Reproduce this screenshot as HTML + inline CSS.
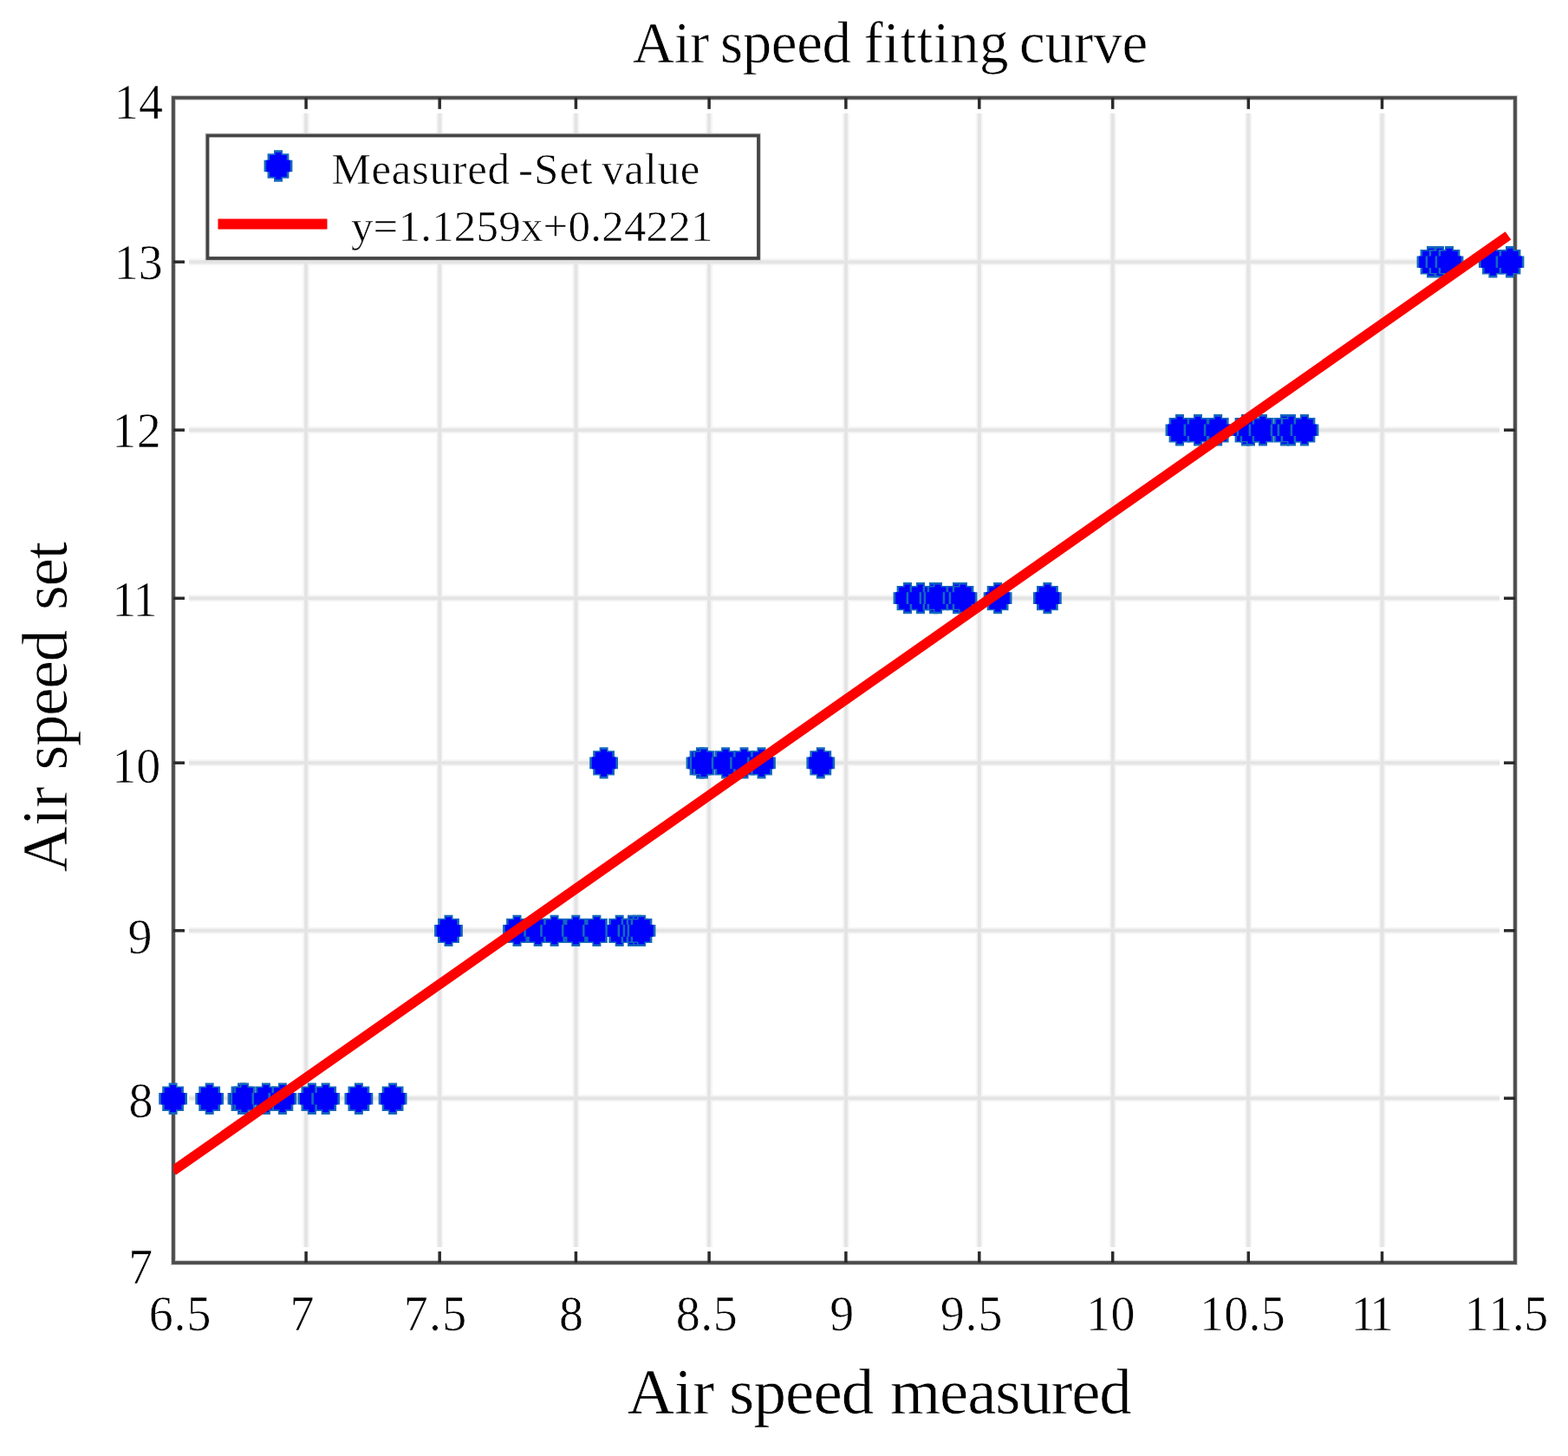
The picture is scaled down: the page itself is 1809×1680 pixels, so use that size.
<!DOCTYPE html><html><head><meta charset="utf-8"><title>Air speed fitting curve</title><style>html,body{margin:0;padding:0;background:#fff;}svg{display:block;filter:blur(0.55px);}text{font-family:"Liberation Serif","Times New Roman",serif;fill:#000;stroke:#fff;stroke-width:0.6px;font-variant-ligatures:none;font-kerning:none;}</style></head><body>
<svg width="1809" height="1680" viewBox="0 0 1809 1680">
<rect x="0" y="0" width="1809" height="1680" fill="#fff"/>
<g stroke="#f5f5f5" stroke-width="8"><line x1="353.1" y1="130.8" x2="353.1" y2="1439.0"/><line x1="507.2" y1="130.8" x2="507.2" y2="1439.0"/><line x1="664.4" y1="130.8" x2="664.4" y2="1439.0"/><line x1="818.1" y1="130.8" x2="818.1" y2="1439.0"/><line x1="975.9" y1="130.8" x2="975.9" y2="1439.0"/><line x1="1129.8" y1="130.8" x2="1129.8" y2="1439.0"/><line x1="1283.7" y1="130.8" x2="1283.7" y2="1439.0"/><line x1="1440.3" y1="130.8" x2="1440.3" y2="1439.0"/><line x1="1594.5" y1="130.8" x2="1594.5" y2="1439.0"/><line x1="218.0" y1="1267.2" x2="1730.0" y2="1267.2"/><line x1="218.0" y1="1073.8" x2="1730.0" y2="1073.8"/><line x1="218.0" y1="880.2" x2="1730.0" y2="880.2"/><line x1="218.0" y1="690.3" x2="1730.0" y2="690.3"/><line x1="218.0" y1="496.2" x2="1730.0" y2="496.2"/><line x1="218.0" y1="302.2" x2="1730.0" y2="302.2"/></g>
<g stroke="#e4e4e4" stroke-width="4"><line x1="353.1" y1="130.8" x2="353.1" y2="1439.0"/><line x1="507.2" y1="130.8" x2="507.2" y2="1439.0"/><line x1="664.4" y1="130.8" x2="664.4" y2="1439.0"/><line x1="818.1" y1="130.8" x2="818.1" y2="1439.0"/><line x1="975.9" y1="130.8" x2="975.9" y2="1439.0"/><line x1="1129.8" y1="130.8" x2="1129.8" y2="1439.0"/><line x1="1283.7" y1="130.8" x2="1283.7" y2="1439.0"/><line x1="1440.3" y1="130.8" x2="1440.3" y2="1439.0"/><line x1="1594.5" y1="130.8" x2="1594.5" y2="1439.0"/><line x1="218.0" y1="1267.2" x2="1730.0" y2="1267.2"/><line x1="218.0" y1="1073.8" x2="1730.0" y2="1073.8"/><line x1="218.0" y1="880.2" x2="1730.0" y2="880.2"/><line x1="218.0" y1="690.3" x2="1730.0" y2="690.3"/><line x1="218.0" y1="496.2" x2="1730.0" y2="496.2"/><line x1="218.0" y1="302.2" x2="1730.0" y2="302.2"/></g>
<rect x="200.0" y="112.8" width="1548.0" height="1344.2" fill="none" stroke="#d0d0d0" stroke-width="6"/>
<rect x="200.0" y="112.8" width="1548.0" height="1344.2" fill="none" stroke="#4c4c4c" stroke-width="3.8"/>
<g stroke="#2a2a2a" stroke-width="3.5"><line x1="353.1" y1="1457.0" x2="353.1" y2="1444.0"/><line x1="353.1" y1="112.8" x2="353.1" y2="125.8"/><line x1="507.2" y1="1457.0" x2="507.2" y2="1444.0"/><line x1="507.2" y1="112.8" x2="507.2" y2="125.8"/><line x1="664.4" y1="1457.0" x2="664.4" y2="1444.0"/><line x1="664.4" y1="112.8" x2="664.4" y2="125.8"/><line x1="818.1" y1="1457.0" x2="818.1" y2="1444.0"/><line x1="818.1" y1="112.8" x2="818.1" y2="125.8"/><line x1="975.9" y1="1457.0" x2="975.9" y2="1444.0"/><line x1="975.9" y1="112.8" x2="975.9" y2="125.8"/><line x1="1129.8" y1="1457.0" x2="1129.8" y2="1444.0"/><line x1="1129.8" y1="112.8" x2="1129.8" y2="125.8"/><line x1="1283.7" y1="1457.0" x2="1283.7" y2="1444.0"/><line x1="1283.7" y1="112.8" x2="1283.7" y2="125.8"/><line x1="1440.3" y1="1457.0" x2="1440.3" y2="1444.0"/><line x1="1440.3" y1="112.8" x2="1440.3" y2="125.8"/><line x1="1594.5" y1="1457.0" x2="1594.5" y2="1444.0"/><line x1="1594.5" y1="112.8" x2="1594.5" y2="125.8"/><line x1="200.0" y1="1267.2" x2="213.0" y2="1267.2"/><line x1="1748.0" y1="1267.2" x2="1735.0" y2="1267.2"/><line x1="200.0" y1="1073.8" x2="213.0" y2="1073.8"/><line x1="1748.0" y1="1073.8" x2="1735.0" y2="1073.8"/><line x1="200.0" y1="880.2" x2="213.0" y2="880.2"/><line x1="1748.0" y1="880.2" x2="1735.0" y2="880.2"/><line x1="200.0" y1="690.3" x2="213.0" y2="690.3"/><line x1="1748.0" y1="690.3" x2="1735.0" y2="690.3"/><line x1="200.0" y1="496.2" x2="213.0" y2="496.2"/><line x1="1748.0" y1="496.2" x2="1735.0" y2="496.2"/><line x1="200.0" y1="302.2" x2="213.0" y2="302.2"/><line x1="1748.0" y1="302.2" x2="1735.0" y2="302.2"/></g>
<g><polygon points="194.6,1249.5 204.6,1249.5 204.6,1253.5 212.0,1253.5 212.0,1260.9 216.0,1260.9 216.0,1274.5 212.0,1274.5 212.0,1281.9 204.6,1281.9 204.6,1285.9 194.6,1285.9 194.6,1281.9 187.2,1281.9 187.2,1274.5 183.2,1274.5 183.2,1260.9 187.2,1260.9 187.2,1253.5 194.6,1253.5" fill="#1468bc"/><polygon points="196.2,1252.1 203.0,1252.1 203.0,1255.1 209.4,1255.1 209.4,1260.9 213.4,1260.9 213.4,1274.5 209.4,1274.5 209.4,1280.3 203.0,1280.3 203.0,1283.3 196.2,1283.3 196.2,1280.3 189.8,1280.3 189.8,1274.5 185.8,1274.5 185.8,1260.9 189.8,1260.9 189.8,1255.1 196.2,1255.1" fill="#0000fc"/><polygon points="236.7,1249.5 246.7,1249.5 246.7,1253.5 254.1,1253.5 254.1,1260.9 258.1,1260.9 258.1,1274.5 254.1,1274.5 254.1,1281.9 246.7,1281.9 246.7,1285.9 236.7,1285.9 236.7,1281.9 229.3,1281.9 229.3,1274.5 225.3,1274.5 225.3,1260.9 229.3,1260.9 229.3,1253.5 236.7,1253.5" fill="#1468bc"/><polygon points="238.3,1252.1 245.1,1252.1 245.1,1255.1 251.5,1255.1 251.5,1260.9 255.5,1260.9 255.5,1274.5 251.5,1274.5 251.5,1280.3 245.1,1280.3 245.1,1283.3 238.3,1283.3 238.3,1280.3 231.9,1280.3 231.9,1274.5 227.9,1274.5 227.9,1260.9 231.9,1260.9 231.9,1255.1 238.3,1255.1" fill="#0000fc"/><polygon points="274.0,1249.5 284.0,1249.5 284.0,1253.5 291.4,1253.5 291.4,1260.9 295.4,1260.9 295.4,1274.5 291.4,1274.5 291.4,1281.9 284.0,1281.9 284.0,1285.9 274.0,1285.9 274.0,1281.9 266.6,1281.9 266.6,1274.5 262.6,1274.5 262.6,1260.9 266.6,1260.9 266.6,1253.5 274.0,1253.5" fill="#1468bc"/><polygon points="275.6,1252.1 282.4,1252.1 282.4,1255.1 288.8,1255.1 288.8,1260.9 292.8,1260.9 292.8,1274.5 288.8,1274.5 288.8,1280.3 282.4,1280.3 282.4,1283.3 275.6,1283.3 275.6,1280.3 269.2,1280.3 269.2,1274.5 265.2,1274.5 265.2,1260.9 269.2,1260.9 269.2,1255.1 275.6,1255.1" fill="#0000fc"/><polygon points="277.0,1249.5 287.0,1249.5 287.0,1253.5 294.4,1253.5 294.4,1260.9 298.4,1260.9 298.4,1274.5 294.4,1274.5 294.4,1281.9 287.0,1281.9 287.0,1285.9 277.0,1285.9 277.0,1281.9 269.6,1281.9 269.6,1274.5 265.6,1274.5 265.6,1260.9 269.6,1260.9 269.6,1253.5 277.0,1253.5" fill="#1468bc"/><polygon points="278.6,1252.1 285.4,1252.1 285.4,1255.1 291.8,1255.1 291.8,1260.9 295.8,1260.9 295.8,1274.5 291.8,1274.5 291.8,1280.3 285.4,1280.3 285.4,1283.3 278.6,1283.3 278.6,1280.3 272.2,1280.3 272.2,1274.5 268.2,1274.5 268.2,1260.9 272.2,1260.9 272.2,1255.1 278.6,1255.1" fill="#0000fc"/><polygon points="301.9,1249.5 311.9,1249.5 311.9,1253.5 319.3,1253.5 319.3,1260.9 323.3,1260.9 323.3,1274.5 319.3,1274.5 319.3,1281.9 311.9,1281.9 311.9,1285.9 301.9,1285.9 301.9,1281.9 294.5,1281.9 294.5,1274.5 290.5,1274.5 290.5,1260.9 294.5,1260.9 294.5,1253.5 301.9,1253.5" fill="#1468bc"/><polygon points="303.5,1252.1 310.3,1252.1 310.3,1255.1 316.7,1255.1 316.7,1260.9 320.7,1260.9 320.7,1274.5 316.7,1274.5 316.7,1280.3 310.3,1280.3 310.3,1283.3 303.5,1283.3 303.5,1280.3 297.1,1280.3 297.1,1274.5 293.1,1274.5 293.1,1260.9 297.1,1260.9 297.1,1255.1 303.5,1255.1" fill="#0000fc"/><polygon points="320.9,1249.5 330.9,1249.5 330.9,1253.5 338.3,1253.5 338.3,1260.9 342.3,1260.9 342.3,1274.5 338.3,1274.5 338.3,1281.9 330.9,1281.9 330.9,1285.9 320.9,1285.9 320.9,1281.9 313.5,1281.9 313.5,1274.5 309.5,1274.5 309.5,1260.9 313.5,1260.9 313.5,1253.5 320.9,1253.5" fill="#1468bc"/><polygon points="322.5,1252.1 329.3,1252.1 329.3,1255.1 335.7,1255.1 335.7,1260.9 339.7,1260.9 339.7,1274.5 335.7,1274.5 335.7,1280.3 329.3,1280.3 329.3,1283.3 322.5,1283.3 322.5,1280.3 316.1,1280.3 316.1,1274.5 312.1,1274.5 312.1,1260.9 316.1,1260.9 316.1,1255.1 322.5,1255.1" fill="#0000fc"/><polygon points="354.9,1249.5 364.9,1249.5 364.9,1253.5 372.3,1253.5 372.3,1260.9 376.3,1260.9 376.3,1274.5 372.3,1274.5 372.3,1281.9 364.9,1281.9 364.9,1285.9 354.9,1285.9 354.9,1281.9 347.5,1281.9 347.5,1274.5 343.5,1274.5 343.5,1260.9 347.5,1260.9 347.5,1253.5 354.9,1253.5" fill="#1468bc"/><polygon points="356.5,1252.1 363.3,1252.1 363.3,1255.1 369.7,1255.1 369.7,1260.9 373.7,1260.9 373.7,1274.5 369.7,1274.5 369.7,1280.3 363.3,1280.3 363.3,1283.3 356.5,1283.3 356.5,1280.3 350.1,1280.3 350.1,1274.5 346.1,1274.5 346.1,1260.9 350.1,1260.9 350.1,1255.1 356.5,1255.1" fill="#0000fc"/><polygon points="370.7,1249.5 380.7,1249.5 380.7,1253.5 388.1,1253.5 388.1,1260.9 392.1,1260.9 392.1,1274.5 388.1,1274.5 388.1,1281.9 380.7,1281.9 380.7,1285.9 370.7,1285.9 370.7,1281.9 363.3,1281.9 363.3,1274.5 359.3,1274.5 359.3,1260.9 363.3,1260.9 363.3,1253.5 370.7,1253.5" fill="#1468bc"/><polygon points="372.3,1252.1 379.1,1252.1 379.1,1255.1 385.5,1255.1 385.5,1260.9 389.5,1260.9 389.5,1274.5 385.5,1274.5 385.5,1280.3 379.1,1280.3 379.1,1283.3 372.3,1283.3 372.3,1280.3 365.9,1280.3 365.9,1274.5 361.9,1274.5 361.9,1260.9 365.9,1260.9 365.9,1255.1 372.3,1255.1" fill="#0000fc"/><polygon points="408.9,1249.5 418.9,1249.5 418.9,1253.5 426.3,1253.5 426.3,1260.9 430.3,1260.9 430.3,1274.5 426.3,1274.5 426.3,1281.9 418.9,1281.9 418.9,1285.9 408.9,1285.9 408.9,1281.9 401.5,1281.9 401.5,1274.5 397.5,1274.5 397.5,1260.9 401.5,1260.9 401.5,1253.5 408.9,1253.5" fill="#1468bc"/><polygon points="410.5,1252.1 417.3,1252.1 417.3,1255.1 423.7,1255.1 423.7,1260.9 427.7,1260.9 427.7,1274.5 423.7,1274.5 423.7,1280.3 417.3,1280.3 417.3,1283.3 410.5,1283.3 410.5,1280.3 404.1,1280.3 404.1,1274.5 400.1,1274.5 400.1,1260.9 404.1,1260.9 404.1,1255.1 410.5,1255.1" fill="#0000fc"/><polygon points="448.1,1249.5 458.1,1249.5 458.1,1253.5 465.5,1253.5 465.5,1260.9 469.5,1260.9 469.5,1274.5 465.5,1274.5 465.5,1281.9 458.1,1281.9 458.1,1285.9 448.1,1285.9 448.1,1281.9 440.7,1281.9 440.7,1274.5 436.7,1274.5 436.7,1260.9 440.7,1260.9 440.7,1253.5 448.1,1253.5" fill="#1468bc"/><polygon points="449.7,1252.1 456.5,1252.1 456.5,1255.1 462.9,1255.1 462.9,1260.9 466.9,1260.9 466.9,1274.5 462.9,1274.5 462.9,1280.3 456.5,1280.3 456.5,1283.3 449.7,1283.3 449.7,1280.3 443.3,1280.3 443.3,1274.5 439.3,1274.5 439.3,1260.9 443.3,1260.9 443.3,1255.1 449.7,1255.1" fill="#0000fc"/><polygon points="512.5,1055.7 522.5,1055.7 522.5,1059.7 529.9,1059.7 529.9,1067.1 533.9,1067.1 533.9,1080.7 529.9,1080.7 529.9,1088.1 522.5,1088.1 522.5,1092.1 512.5,1092.1 512.5,1088.1 505.1,1088.1 505.1,1080.7 501.1,1080.7 501.1,1067.1 505.1,1067.1 505.1,1059.7 512.5,1059.7" fill="#1468bc"/><polygon points="514.1,1058.3 520.9,1058.3 520.9,1061.3 527.3,1061.3 527.3,1067.1 531.3,1067.1 531.3,1080.7 527.3,1080.7 527.3,1086.5 520.9,1086.5 520.9,1089.5 514.1,1089.5 514.1,1086.5 507.7,1086.5 507.7,1080.7 503.7,1080.7 503.7,1067.1 507.7,1067.1 507.7,1061.3 514.1,1061.3" fill="#0000fc"/><polygon points="591.5,1055.7 601.5,1055.7 601.5,1059.7 608.9,1059.7 608.9,1067.1 612.9,1067.1 612.9,1080.7 608.9,1080.7 608.9,1088.1 601.5,1088.1 601.5,1092.1 591.5,1092.1 591.5,1088.1 584.1,1088.1 584.1,1080.7 580.1,1080.7 580.1,1067.1 584.1,1067.1 584.1,1059.7 591.5,1059.7" fill="#1468bc"/><polygon points="593.1,1058.3 599.9,1058.3 599.9,1061.3 606.3,1061.3 606.3,1067.1 610.3,1067.1 610.3,1080.7 606.3,1080.7 606.3,1086.5 599.9,1086.5 599.9,1089.5 593.1,1089.5 593.1,1086.5 586.7,1086.5 586.7,1080.7 582.7,1080.7 582.7,1067.1 586.7,1067.1 586.7,1061.3 593.1,1061.3" fill="#0000fc"/><polygon points="615.7,1055.7 625.7,1055.7 625.7,1059.7 633.1,1059.7 633.1,1067.1 637.1,1067.1 637.1,1080.7 633.1,1080.7 633.1,1088.1 625.7,1088.1 625.7,1092.1 615.7,1092.1 615.7,1088.1 608.3,1088.1 608.3,1080.7 604.3,1080.7 604.3,1067.1 608.3,1067.1 608.3,1059.7 615.7,1059.7" fill="#1468bc"/><polygon points="617.3,1058.3 624.1,1058.3 624.1,1061.3 630.5,1061.3 630.5,1067.1 634.5,1067.1 634.5,1080.7 630.5,1080.7 630.5,1086.5 624.1,1086.5 624.1,1089.5 617.3,1089.5 617.3,1086.5 610.9,1086.5 610.9,1080.7 606.9,1080.7 606.9,1067.1 610.9,1067.1 610.9,1061.3 617.3,1061.3" fill="#0000fc"/><polygon points="634.6,1055.7 644.6,1055.7 644.6,1059.7 652.0,1059.7 652.0,1067.1 656.0,1067.1 656.0,1080.7 652.0,1080.7 652.0,1088.1 644.6,1088.1 644.6,1092.1 634.6,1092.1 634.6,1088.1 627.2,1088.1 627.2,1080.7 623.2,1080.7 623.2,1067.1 627.2,1067.1 627.2,1059.7 634.6,1059.7" fill="#1468bc"/><polygon points="636.2,1058.3 643.0,1058.3 643.0,1061.3 649.4,1061.3 649.4,1067.1 653.4,1067.1 653.4,1080.7 649.4,1080.7 649.4,1086.5 643.0,1086.5 643.0,1089.5 636.2,1089.5 636.2,1086.5 629.8,1086.5 629.8,1080.7 625.8,1080.7 625.8,1067.1 629.8,1067.1 629.8,1061.3 636.2,1061.3" fill="#0000fc"/><polygon points="659.3,1055.7 669.3,1055.7 669.3,1059.7 676.7,1059.7 676.7,1067.1 680.7,1067.1 680.7,1080.7 676.7,1080.7 676.7,1088.1 669.3,1088.1 669.3,1092.1 659.3,1092.1 659.3,1088.1 651.9,1088.1 651.9,1080.7 647.9,1080.7 647.9,1067.1 651.9,1067.1 651.9,1059.7 659.3,1059.7" fill="#1468bc"/><polygon points="660.9,1058.3 667.7,1058.3 667.7,1061.3 674.1,1061.3 674.1,1067.1 678.1,1067.1 678.1,1080.7 674.1,1080.7 674.1,1086.5 667.7,1086.5 667.7,1089.5 660.9,1089.5 660.9,1086.5 654.5,1086.5 654.5,1080.7 650.5,1080.7 650.5,1067.1 654.5,1067.1 654.5,1061.3 660.9,1061.3" fill="#0000fc"/><polygon points="683.4,1055.7 693.4,1055.7 693.4,1059.7 700.8,1059.7 700.8,1067.1 704.8,1067.1 704.8,1080.7 700.8,1080.7 700.8,1088.1 693.4,1088.1 693.4,1092.1 683.4,1092.1 683.4,1088.1 676.0,1088.1 676.0,1080.7 672.0,1080.7 672.0,1067.1 676.0,1067.1 676.0,1059.7 683.4,1059.7" fill="#1468bc"/><polygon points="685.0,1058.3 691.8,1058.3 691.8,1061.3 698.2,1061.3 698.2,1067.1 702.2,1067.1 702.2,1080.7 698.2,1080.7 698.2,1086.5 691.8,1086.5 691.8,1089.5 685.0,1089.5 685.0,1086.5 678.6,1086.5 678.6,1080.7 674.6,1080.7 674.6,1067.1 678.6,1067.1 678.6,1061.3 685.0,1061.3" fill="#0000fc"/><polygon points="709.7,1055.7 719.7,1055.7 719.7,1059.7 727.1,1059.7 727.1,1067.1 731.1,1067.1 731.1,1080.7 727.1,1080.7 727.1,1088.1 719.7,1088.1 719.7,1092.1 709.7,1092.1 709.7,1088.1 702.3,1088.1 702.3,1080.7 698.3,1080.7 698.3,1067.1 702.3,1067.1 702.3,1059.7 709.7,1059.7" fill="#1468bc"/><polygon points="711.3,1058.3 718.1,1058.3 718.1,1061.3 724.5,1061.3 724.5,1067.1 728.5,1067.1 728.5,1080.7 724.5,1080.7 724.5,1086.5 718.1,1086.5 718.1,1089.5 711.3,1089.5 711.3,1086.5 704.9,1086.5 704.9,1080.7 700.9,1080.7 700.9,1067.1 704.9,1067.1 704.9,1061.3 711.3,1061.3" fill="#0000fc"/><polygon points="724.0,1055.7 734.0,1055.7 734.0,1059.7 741.4,1059.7 741.4,1067.1 745.4,1067.1 745.4,1080.7 741.4,1080.7 741.4,1088.1 734.0,1088.1 734.0,1092.1 724.0,1092.1 724.0,1088.1 716.6,1088.1 716.6,1080.7 712.6,1080.7 712.6,1067.1 716.6,1067.1 716.6,1059.7 724.0,1059.7" fill="#1468bc"/><polygon points="725.6,1058.3 732.4,1058.3 732.4,1061.3 738.8,1061.3 738.8,1067.1 742.8,1067.1 742.8,1080.7 738.8,1080.7 738.8,1086.5 732.4,1086.5 732.4,1089.5 725.6,1089.5 725.6,1086.5 719.2,1086.5 719.2,1080.7 715.2,1080.7 715.2,1067.1 719.2,1067.1 719.2,1061.3 725.6,1061.3" fill="#0000fc"/><polygon points="730.0,1055.7 740.0,1055.7 740.0,1059.7 747.4,1059.7 747.4,1067.1 751.4,1067.1 751.4,1080.7 747.4,1080.7 747.4,1088.1 740.0,1088.1 740.0,1092.1 730.0,1092.1 730.0,1088.1 722.6,1088.1 722.6,1080.7 718.6,1080.7 718.6,1067.1 722.6,1067.1 722.6,1059.7 730.0,1059.7" fill="#1468bc"/><polygon points="731.6,1058.3 738.4,1058.3 738.4,1061.3 744.8,1061.3 744.8,1067.1 748.8,1067.1 748.8,1080.7 744.8,1080.7 744.8,1086.5 738.4,1086.5 738.4,1089.5 731.6,1089.5 731.6,1086.5 725.2,1086.5 725.2,1080.7 721.2,1080.7 721.2,1067.1 725.2,1067.1 725.2,1061.3 731.6,1061.3" fill="#0000fc"/><polygon points="735.0,1055.7 745.0,1055.7 745.0,1059.7 752.4,1059.7 752.4,1067.1 756.4,1067.1 756.4,1080.7 752.4,1080.7 752.4,1088.1 745.0,1088.1 745.0,1092.1 735.0,1092.1 735.0,1088.1 727.6,1088.1 727.6,1080.7 723.6,1080.7 723.6,1067.1 727.6,1067.1 727.6,1059.7 735.0,1059.7" fill="#1468bc"/><polygon points="736.6,1058.3 743.4,1058.3 743.4,1061.3 749.8,1061.3 749.8,1067.1 753.8,1067.1 753.8,1080.7 749.8,1080.7 749.8,1086.5 743.4,1086.5 743.4,1089.5 736.6,1089.5 736.6,1086.5 730.2,1086.5 730.2,1080.7 726.2,1080.7 726.2,1067.1 730.2,1067.1 730.2,1061.3 736.6,1061.3" fill="#0000fc"/><polygon points="691.6,862.2 701.6,862.2 701.6,866.2 709.0,866.2 709.0,873.6 713.0,873.6 713.0,887.2 709.0,887.2 709.0,894.6 701.6,894.6 701.6,898.6 691.6,898.6 691.6,894.6 684.2,894.6 684.2,887.2 680.2,887.2 680.2,873.6 684.2,873.6 684.2,866.2 691.6,866.2" fill="#1468bc"/><polygon points="693.2,864.8 700.0,864.8 700.0,867.8 706.4,867.8 706.4,873.6 710.4,873.6 710.4,887.2 706.4,887.2 706.4,893.0 700.0,893.0 700.0,896.0 693.2,896.0 693.2,893.0 686.8,893.0 686.8,887.2 682.8,887.2 682.8,873.6 686.8,873.6 686.8,867.8 693.2,867.8" fill="#0000fc"/><polygon points="803.0,862.2 813.0,862.2 813.0,866.2 820.4,866.2 820.4,873.6 824.4,873.6 824.4,887.2 820.4,887.2 820.4,894.6 813.0,894.6 813.0,898.6 803.0,898.6 803.0,894.6 795.6,894.6 795.6,887.2 791.6,887.2 791.6,873.6 795.6,873.6 795.6,866.2 803.0,866.2" fill="#1468bc"/><polygon points="804.6,864.8 811.4,864.8 811.4,867.8 817.8,867.8 817.8,873.6 821.8,873.6 821.8,887.2 817.8,887.2 817.8,893.0 811.4,893.0 811.4,896.0 804.6,896.0 804.6,893.0 798.2,893.0 798.2,887.2 794.2,887.2 794.2,873.6 798.2,873.6 798.2,867.8 804.6,867.8" fill="#0000fc"/><polygon points="807.0,862.2 817.0,862.2 817.0,866.2 824.4,866.2 824.4,873.6 828.4,873.6 828.4,887.2 824.4,887.2 824.4,894.6 817.0,894.6 817.0,898.6 807.0,898.6 807.0,894.6 799.6,894.6 799.6,887.2 795.6,887.2 795.6,873.6 799.6,873.6 799.6,866.2 807.0,866.2" fill="#1468bc"/><polygon points="808.6,864.8 815.4,864.8 815.4,867.8 821.8,867.8 821.8,873.6 825.8,873.6 825.8,887.2 821.8,887.2 821.8,893.0 815.4,893.0 815.4,896.0 808.6,896.0 808.6,893.0 802.2,893.0 802.2,887.2 798.2,887.2 798.2,873.6 802.2,873.6 802.2,867.8 808.6,867.8" fill="#0000fc"/><polygon points="832.1,862.2 842.1,862.2 842.1,866.2 849.5,866.2 849.5,873.6 853.5,873.6 853.5,887.2 849.5,887.2 849.5,894.6 842.1,894.6 842.1,898.6 832.1,898.6 832.1,894.6 824.7,894.6 824.7,887.2 820.7,887.2 820.7,873.6 824.7,873.6 824.7,866.2 832.1,866.2" fill="#1468bc"/><polygon points="833.7,864.8 840.5,864.8 840.5,867.8 846.9,867.8 846.9,873.6 850.9,873.6 850.9,887.2 846.9,887.2 846.9,893.0 840.5,893.0 840.5,896.0 833.7,896.0 833.7,893.0 827.3,893.0 827.3,887.2 823.3,887.2 823.3,873.6 827.3,873.6 827.3,867.8 833.7,867.8" fill="#0000fc"/><polygon points="853.5,862.2 863.5,862.2 863.5,866.2 870.9,866.2 870.9,873.6 874.9,873.6 874.9,887.2 870.9,887.2 870.9,894.6 863.5,894.6 863.5,898.6 853.5,898.6 853.5,894.6 846.1,894.6 846.1,887.2 842.1,887.2 842.1,873.6 846.1,873.6 846.1,866.2 853.5,866.2" fill="#1468bc"/><polygon points="855.1,864.8 861.9,864.8 861.9,867.8 868.3,867.8 868.3,873.6 872.3,873.6 872.3,887.2 868.3,887.2 868.3,893.0 861.9,893.0 861.9,896.0 855.1,896.0 855.1,893.0 848.7,893.0 848.7,887.2 844.7,887.2 844.7,873.6 848.7,873.6 848.7,867.8 855.1,867.8" fill="#0000fc"/><polygon points="873.5,862.2 883.5,862.2 883.5,866.2 890.9,866.2 890.9,873.6 894.9,873.6 894.9,887.2 890.9,887.2 890.9,894.6 883.5,894.6 883.5,898.6 873.5,898.6 873.5,894.6 866.1,894.6 866.1,887.2 862.1,887.2 862.1,873.6 866.1,873.6 866.1,866.2 873.5,866.2" fill="#1468bc"/><polygon points="875.1,864.8 881.9,864.8 881.9,867.8 888.3,867.8 888.3,873.6 892.3,873.6 892.3,887.2 888.3,887.2 888.3,893.0 881.9,893.0 881.9,896.0 875.1,896.0 875.1,893.0 868.7,893.0 868.7,887.2 864.7,887.2 864.7,873.6 868.7,873.6 868.7,867.8 875.1,867.8" fill="#0000fc"/><polygon points="941.8,862.2 951.8,862.2 951.8,866.2 959.2,866.2 959.2,873.6 963.2,873.6 963.2,887.2 959.2,887.2 959.2,894.6 951.8,894.6 951.8,898.6 941.8,898.6 941.8,894.6 934.4,894.6 934.4,887.2 930.4,887.2 930.4,873.6 934.4,873.6 934.4,866.2 941.8,866.2" fill="#1468bc"/><polygon points="943.4,864.8 950.2,864.8 950.2,867.8 956.6,867.8 956.6,873.6 960.6,873.6 960.6,887.2 956.6,887.2 956.6,893.0 950.2,893.0 950.2,896.0 943.4,896.0 943.4,893.0 937.0,893.0 937.0,887.2 933.0,887.2 933.0,873.6 937.0,873.6 937.0,867.8 943.4,867.8" fill="#0000fc"/><polygon points="1042.0,671.9 1052.0,671.9 1052.0,675.9 1059.4,675.9 1059.4,683.3 1063.4,683.3 1063.4,696.9 1059.4,696.9 1059.4,704.3 1052.0,704.3 1052.0,708.3 1042.0,708.3 1042.0,704.3 1034.6,704.3 1034.6,696.9 1030.6,696.9 1030.6,683.3 1034.6,683.3 1034.6,675.9 1042.0,675.9" fill="#1468bc"/><polygon points="1043.6,674.5 1050.4,674.5 1050.4,677.5 1056.8,677.5 1056.8,683.3 1060.8,683.3 1060.8,696.9 1056.8,696.9 1056.8,702.7 1050.4,702.7 1050.4,705.7 1043.6,705.7 1043.6,702.7 1037.2,702.7 1037.2,696.9 1033.2,696.9 1033.2,683.3 1037.2,683.3 1037.2,677.5 1043.6,677.5" fill="#0000fc"/><polygon points="1057.0,671.9 1067.0,671.9 1067.0,675.9 1074.4,675.9 1074.4,683.3 1078.4,683.3 1078.4,696.9 1074.4,696.9 1074.4,704.3 1067.0,704.3 1067.0,708.3 1057.0,708.3 1057.0,704.3 1049.6,704.3 1049.6,696.9 1045.6,696.9 1045.6,683.3 1049.6,683.3 1049.6,675.9 1057.0,675.9" fill="#1468bc"/><polygon points="1058.6,674.5 1065.4,674.5 1065.4,677.5 1071.8,677.5 1071.8,683.3 1075.8,683.3 1075.8,696.9 1071.8,696.9 1071.8,702.7 1065.4,702.7 1065.4,705.7 1058.6,705.7 1058.6,702.7 1052.2,702.7 1052.2,696.9 1048.2,696.9 1048.2,683.3 1052.2,683.3 1052.2,677.5 1058.6,677.5" fill="#0000fc"/><polygon points="1072.0,671.9 1082.0,671.9 1082.0,675.9 1089.4,675.9 1089.4,683.3 1093.4,683.3 1093.4,696.9 1089.4,696.9 1089.4,704.3 1082.0,704.3 1082.0,708.3 1072.0,708.3 1072.0,704.3 1064.6,704.3 1064.6,696.9 1060.6,696.9 1060.6,683.3 1064.6,683.3 1064.6,675.9 1072.0,675.9" fill="#1468bc"/><polygon points="1073.6,674.5 1080.4,674.5 1080.4,677.5 1086.8,677.5 1086.8,683.3 1090.8,683.3 1090.8,696.9 1086.8,696.9 1086.8,702.7 1080.4,702.7 1080.4,705.7 1073.6,705.7 1073.6,702.7 1067.2,702.7 1067.2,696.9 1063.2,696.9 1063.2,683.3 1067.2,683.3 1067.2,677.5 1073.6,677.5" fill="#0000fc"/><polygon points="1077.0,671.9 1087.0,671.9 1087.0,675.9 1094.4,675.9 1094.4,683.3 1098.4,683.3 1098.4,696.9 1094.4,696.9 1094.4,704.3 1087.0,704.3 1087.0,708.3 1077.0,708.3 1077.0,704.3 1069.6,704.3 1069.6,696.9 1065.6,696.9 1065.6,683.3 1069.6,683.3 1069.6,675.9 1077.0,675.9" fill="#1468bc"/><polygon points="1078.6,674.5 1085.4,674.5 1085.4,677.5 1091.8,677.5 1091.8,683.3 1095.8,683.3 1095.8,696.9 1091.8,696.9 1091.8,702.7 1085.4,702.7 1085.4,705.7 1078.6,705.7 1078.6,702.7 1072.2,702.7 1072.2,696.9 1068.2,696.9 1068.2,683.3 1072.2,683.3 1072.2,677.5 1078.6,677.5" fill="#0000fc"/><polygon points="1099.0,671.9 1109.0,671.9 1109.0,675.9 1116.4,675.9 1116.4,683.3 1120.4,683.3 1120.4,696.9 1116.4,696.9 1116.4,704.3 1109.0,704.3 1109.0,708.3 1099.0,708.3 1099.0,704.3 1091.6,704.3 1091.6,696.9 1087.6,696.9 1087.6,683.3 1091.6,683.3 1091.6,675.9 1099.0,675.9" fill="#1468bc"/><polygon points="1100.6,674.5 1107.4,674.5 1107.4,677.5 1113.8,677.5 1113.8,683.3 1117.8,683.3 1117.8,696.9 1113.8,696.9 1113.8,702.7 1107.4,702.7 1107.4,705.7 1100.6,705.7 1100.6,702.7 1094.2,702.7 1094.2,696.9 1090.2,696.9 1090.2,683.3 1094.2,683.3 1094.2,677.5 1100.6,677.5" fill="#0000fc"/><polygon points="1106.0,671.9 1116.0,671.9 1116.0,675.9 1123.4,675.9 1123.4,683.3 1127.4,683.3 1127.4,696.9 1123.4,696.9 1123.4,704.3 1116.0,704.3 1116.0,708.3 1106.0,708.3 1106.0,704.3 1098.6,704.3 1098.6,696.9 1094.6,696.9 1094.6,683.3 1098.6,683.3 1098.6,675.9 1106.0,675.9" fill="#1468bc"/><polygon points="1107.6,674.5 1114.4,674.5 1114.4,677.5 1120.8,677.5 1120.8,683.3 1124.8,683.3 1124.8,696.9 1120.8,696.9 1120.8,702.7 1114.4,702.7 1114.4,705.7 1107.6,705.7 1107.6,702.7 1101.2,702.7 1101.2,696.9 1097.2,696.9 1097.2,683.3 1101.2,683.3 1101.2,677.5 1107.6,677.5" fill="#0000fc"/><polygon points="1146.1,671.9 1156.1,671.9 1156.1,675.9 1163.5,675.9 1163.5,683.3 1167.5,683.3 1167.5,696.9 1163.5,696.9 1163.5,704.3 1156.1,704.3 1156.1,708.3 1146.1,708.3 1146.1,704.3 1138.7,704.3 1138.7,696.9 1134.7,696.9 1134.7,683.3 1138.7,683.3 1138.7,675.9 1146.1,675.9" fill="#1468bc"/><polygon points="1147.7,674.5 1154.5,674.5 1154.5,677.5 1160.9,677.5 1160.9,683.3 1164.9,683.3 1164.9,696.9 1160.9,696.9 1160.9,702.7 1154.5,702.7 1154.5,705.7 1147.7,705.7 1147.7,702.7 1141.3,702.7 1141.3,696.9 1137.3,696.9 1137.3,683.3 1141.3,683.3 1141.3,677.5 1147.7,677.5" fill="#0000fc"/><polygon points="1203.4,671.9 1213.4,671.9 1213.4,675.9 1220.8,675.9 1220.8,683.3 1224.8,683.3 1224.8,696.9 1220.8,696.9 1220.8,704.3 1213.4,704.3 1213.4,708.3 1203.4,708.3 1203.4,704.3 1196.0,704.3 1196.0,696.9 1192.0,696.9 1192.0,683.3 1196.0,683.3 1196.0,675.9 1203.4,675.9" fill="#1468bc"/><polygon points="1205.0,674.5 1211.8,674.5 1211.8,677.5 1218.2,677.5 1218.2,683.3 1222.2,683.3 1222.2,696.9 1218.2,696.9 1218.2,702.7 1211.8,702.7 1211.8,705.7 1205.0,705.7 1205.0,702.7 1198.6,702.7 1198.6,696.9 1194.6,696.9 1194.6,683.3 1198.6,683.3 1198.6,677.5 1205.0,677.5" fill="#0000fc"/><polygon points="1356.0,478.1 1366.0,478.1 1366.0,482.1 1373.4,482.1 1373.4,489.5 1377.4,489.5 1377.4,503.1 1373.4,503.1 1373.4,510.5 1366.0,510.5 1366.0,514.5 1356.0,514.5 1356.0,510.5 1348.6,510.5 1348.6,503.1 1344.6,503.1 1344.6,489.5 1348.6,489.5 1348.6,482.1 1356.0,482.1" fill="#1468bc"/><polygon points="1357.6,480.7 1364.4,480.7 1364.4,483.7 1370.8,483.7 1370.8,489.5 1374.8,489.5 1374.8,503.1 1370.8,503.1 1370.8,508.9 1364.4,508.9 1364.4,511.9 1357.6,511.9 1357.6,508.9 1351.2,508.9 1351.2,503.1 1347.2,503.1 1347.2,489.5 1351.2,489.5 1351.2,483.7 1357.6,483.7" fill="#0000fc"/><polygon points="1377.0,478.1 1387.0,478.1 1387.0,482.1 1394.4,482.1 1394.4,489.5 1398.4,489.5 1398.4,503.1 1394.4,503.1 1394.4,510.5 1387.0,510.5 1387.0,514.5 1377.0,514.5 1377.0,510.5 1369.6,510.5 1369.6,503.1 1365.6,503.1 1365.6,489.5 1369.6,489.5 1369.6,482.1 1377.0,482.1" fill="#1468bc"/><polygon points="1378.6,480.7 1385.4,480.7 1385.4,483.7 1391.8,483.7 1391.8,489.5 1395.8,489.5 1395.8,503.1 1391.8,503.1 1391.8,508.9 1385.4,508.9 1385.4,511.9 1378.6,511.9 1378.6,508.9 1372.2,508.9 1372.2,503.1 1368.2,503.1 1368.2,489.5 1372.2,489.5 1372.2,483.7 1378.6,483.7" fill="#0000fc"/><polygon points="1400.2,478.1 1410.2,478.1 1410.2,482.1 1417.6,482.1 1417.6,489.5 1421.6,489.5 1421.6,503.1 1417.6,503.1 1417.6,510.5 1410.2,510.5 1410.2,514.5 1400.2,514.5 1400.2,510.5 1392.8,510.5 1392.8,503.1 1388.8,503.1 1388.8,489.5 1392.8,489.5 1392.8,482.1 1400.2,482.1" fill="#1468bc"/><polygon points="1401.8,480.7 1408.6,480.7 1408.6,483.7 1415.0,483.7 1415.0,489.5 1419.0,489.5 1419.0,503.1 1415.0,503.1 1415.0,508.9 1408.6,508.9 1408.6,511.9 1401.8,511.9 1401.8,508.9 1395.4,508.9 1395.4,503.1 1391.4,503.1 1391.4,489.5 1395.4,489.5 1395.4,483.7 1401.8,483.7" fill="#0000fc"/><polygon points="1432.0,478.1 1442.0,478.1 1442.0,482.1 1449.4,482.1 1449.4,489.5 1453.4,489.5 1453.4,503.1 1449.4,503.1 1449.4,510.5 1442.0,510.5 1442.0,514.5 1432.0,514.5 1432.0,510.5 1424.6,510.5 1424.6,503.1 1420.6,503.1 1420.6,489.5 1424.6,489.5 1424.6,482.1 1432.0,482.1" fill="#1468bc"/><polygon points="1433.6,480.7 1440.4,480.7 1440.4,483.7 1446.8,483.7 1446.8,489.5 1450.8,489.5 1450.8,503.1 1446.8,503.1 1446.8,508.9 1440.4,508.9 1440.4,511.9 1433.6,511.9 1433.6,508.9 1427.2,508.9 1427.2,503.1 1423.2,503.1 1423.2,489.5 1427.2,489.5 1427.2,483.7 1433.6,483.7" fill="#0000fc"/><polygon points="1438.0,478.1 1448.0,478.1 1448.0,482.1 1455.4,482.1 1455.4,489.5 1459.4,489.5 1459.4,503.1 1455.4,503.1 1455.4,510.5 1448.0,510.5 1448.0,514.5 1438.0,514.5 1438.0,510.5 1430.6,510.5 1430.6,503.1 1426.6,503.1 1426.6,489.5 1430.6,489.5 1430.6,482.1 1438.0,482.1" fill="#1468bc"/><polygon points="1439.6,480.7 1446.4,480.7 1446.4,483.7 1452.8,483.7 1452.8,489.5 1456.8,489.5 1456.8,503.1 1452.8,503.1 1452.8,508.9 1446.4,508.9 1446.4,511.9 1439.6,511.9 1439.6,508.9 1433.2,508.9 1433.2,503.1 1429.2,503.1 1429.2,489.5 1433.2,489.5 1433.2,483.7 1439.6,483.7" fill="#0000fc"/><polygon points="1452.0,478.1 1462.0,478.1 1462.0,482.1 1469.4,482.1 1469.4,489.5 1473.4,489.5 1473.4,503.1 1469.4,503.1 1469.4,510.5 1462.0,510.5 1462.0,514.5 1452.0,514.5 1452.0,510.5 1444.6,510.5 1444.6,503.1 1440.6,503.1 1440.6,489.5 1444.6,489.5 1444.6,482.1 1452.0,482.1" fill="#1468bc"/><polygon points="1453.6,480.7 1460.4,480.7 1460.4,483.7 1466.8,483.7 1466.8,489.5 1470.8,489.5 1470.8,503.1 1466.8,503.1 1466.8,508.9 1460.4,508.9 1460.4,511.9 1453.6,511.9 1453.6,508.9 1447.2,508.9 1447.2,503.1 1443.2,503.1 1443.2,489.5 1447.2,489.5 1447.2,483.7 1453.6,483.7" fill="#0000fc"/><polygon points="1477.0,478.1 1487.0,478.1 1487.0,482.1 1494.4,482.1 1494.4,489.5 1498.4,489.5 1498.4,503.1 1494.4,503.1 1494.4,510.5 1487.0,510.5 1487.0,514.5 1477.0,514.5 1477.0,510.5 1469.6,510.5 1469.6,503.1 1465.6,503.1 1465.6,489.5 1469.6,489.5 1469.6,482.1 1477.0,482.1" fill="#1468bc"/><polygon points="1478.6,480.7 1485.4,480.7 1485.4,483.7 1491.8,483.7 1491.8,489.5 1495.8,489.5 1495.8,503.1 1491.8,503.1 1491.8,508.9 1485.4,508.9 1485.4,511.9 1478.6,511.9 1478.6,508.9 1472.2,508.9 1472.2,503.1 1468.2,503.1 1468.2,489.5 1472.2,489.5 1472.2,483.7 1478.6,483.7" fill="#0000fc"/><polygon points="1485.0,478.1 1495.0,478.1 1495.0,482.1 1502.4,482.1 1502.4,489.5 1506.4,489.5 1506.4,503.1 1502.4,503.1 1502.4,510.5 1495.0,510.5 1495.0,514.5 1485.0,514.5 1485.0,510.5 1477.6,510.5 1477.6,503.1 1473.6,503.1 1473.6,489.5 1477.6,489.5 1477.6,482.1 1485.0,482.1" fill="#1468bc"/><polygon points="1486.6,480.7 1493.4,480.7 1493.4,483.7 1499.8,483.7 1499.8,489.5 1503.8,489.5 1503.8,503.1 1499.8,503.1 1499.8,508.9 1493.4,508.9 1493.4,511.9 1486.6,511.9 1486.6,508.9 1480.2,508.9 1480.2,503.1 1476.2,503.1 1476.2,489.5 1480.2,489.5 1480.2,483.7 1486.6,483.7" fill="#0000fc"/><polygon points="1500.0,478.1 1510.0,478.1 1510.0,482.1 1517.4,482.1 1517.4,489.5 1521.4,489.5 1521.4,503.1 1517.4,503.1 1517.4,510.5 1510.0,510.5 1510.0,514.5 1500.0,514.5 1500.0,510.5 1492.6,510.5 1492.6,503.1 1488.6,503.1 1488.6,489.5 1492.6,489.5 1492.6,482.1 1500.0,482.1" fill="#1468bc"/><polygon points="1501.6,480.7 1508.4,480.7 1508.4,483.7 1514.8,483.7 1514.8,489.5 1518.8,489.5 1518.8,503.1 1514.8,503.1 1514.8,508.9 1508.4,508.9 1508.4,511.9 1501.6,511.9 1501.6,508.9 1495.2,508.9 1495.2,503.1 1491.2,503.1 1491.2,489.5 1495.2,489.5 1495.2,483.7 1501.6,483.7" fill="#0000fc"/><polygon points="1646.0,284.1 1656.0,284.1 1656.0,288.1 1663.4,288.1 1663.4,295.5 1667.4,295.5 1667.4,309.1 1663.4,309.1 1663.4,316.5 1656.0,316.5 1656.0,320.5 1646.0,320.5 1646.0,316.5 1638.6,316.5 1638.6,309.1 1634.6,309.1 1634.6,295.5 1638.6,295.5 1638.6,288.1 1646.0,288.1" fill="#1468bc"/><polygon points="1647.6,286.7 1654.4,286.7 1654.4,289.7 1660.8,289.7 1660.8,295.5 1664.8,295.5 1664.8,309.1 1660.8,309.1 1660.8,314.9 1654.4,314.9 1654.4,317.9 1647.6,317.9 1647.6,314.9 1641.2,314.9 1641.2,309.1 1637.2,309.1 1637.2,295.5 1641.2,295.5 1641.2,289.7 1647.6,289.7" fill="#0000fc"/><polygon points="1656.0,284.1 1666.0,284.1 1666.0,288.1 1673.4,288.1 1673.4,295.5 1677.4,295.5 1677.4,309.1 1673.4,309.1 1673.4,316.5 1666.0,316.5 1666.0,320.5 1656.0,320.5 1656.0,316.5 1648.6,316.5 1648.6,309.1 1644.6,309.1 1644.6,295.5 1648.6,295.5 1648.6,288.1 1656.0,288.1" fill="#1468bc"/><polygon points="1657.6,286.7 1664.4,286.7 1664.4,289.7 1670.8,289.7 1670.8,295.5 1674.8,295.5 1674.8,309.1 1670.8,309.1 1670.8,314.9 1664.4,314.9 1664.4,317.9 1657.6,317.9 1657.6,314.9 1651.2,314.9 1651.2,309.1 1647.2,309.1 1647.2,295.5 1651.2,295.5 1651.2,289.7 1657.6,289.7" fill="#0000fc"/><polygon points="1667.0,284.1 1677.0,284.1 1677.0,288.1 1684.4,288.1 1684.4,295.5 1688.4,295.5 1688.4,309.1 1684.4,309.1 1684.4,316.5 1677.0,316.5 1677.0,320.5 1667.0,320.5 1667.0,316.5 1659.6,316.5 1659.6,309.1 1655.6,309.1 1655.6,295.5 1659.6,295.5 1659.6,288.1 1667.0,288.1" fill="#1468bc"/><polygon points="1668.6,286.7 1675.4,286.7 1675.4,289.7 1681.8,289.7 1681.8,295.5 1685.8,295.5 1685.8,309.1 1681.8,309.1 1681.8,314.9 1675.4,314.9 1675.4,317.9 1668.6,317.9 1668.6,314.9 1662.2,314.9 1662.2,309.1 1658.2,309.1 1658.2,295.5 1662.2,295.5 1662.2,289.7 1668.6,289.7" fill="#0000fc"/><polygon points="1717.4,284.1 1727.4,284.1 1727.4,288.1 1734.8,288.1 1734.8,295.5 1738.8,295.5 1738.8,309.1 1734.8,309.1 1734.8,316.5 1727.4,316.5 1727.4,320.5 1717.4,320.5 1717.4,316.5 1710.0,316.5 1710.0,309.1 1706.0,309.1 1706.0,295.5 1710.0,295.5 1710.0,288.1 1717.4,288.1" fill="#1468bc"/><polygon points="1719.0,286.7 1725.8,286.7 1725.8,289.7 1732.2,289.7 1732.2,295.5 1736.2,295.5 1736.2,309.1 1732.2,309.1 1732.2,314.9 1725.8,314.9 1725.8,317.9 1719.0,317.9 1719.0,314.9 1712.6,314.9 1712.6,309.1 1708.6,309.1 1708.6,295.5 1712.6,295.5 1712.6,289.7 1719.0,289.7" fill="#0000fc"/><polygon points="1737.0,284.1 1747.0,284.1 1747.0,288.1 1754.4,288.1 1754.4,295.5 1758.4,295.5 1758.4,309.1 1754.4,309.1 1754.4,316.5 1747.0,316.5 1747.0,320.5 1737.0,320.5 1737.0,316.5 1729.6,316.5 1729.6,309.1 1725.6,309.1 1725.6,295.5 1729.6,295.5 1729.6,288.1 1737.0,288.1" fill="#1468bc"/><polygon points="1738.6,286.7 1745.4,286.7 1745.4,289.7 1751.8,289.7 1751.8,295.5 1755.8,295.5 1755.8,309.1 1751.8,309.1 1751.8,314.9 1745.4,314.9 1745.4,317.9 1738.6,317.9 1738.6,314.9 1732.2,314.9 1732.2,309.1 1728.2,309.1 1728.2,295.5 1732.2,295.5 1732.2,289.7 1738.6,289.7" fill="#0000fc"/></g>
<defs><clipPath id="ax"><rect x="200.0" y="112.8" width="1548.0" height="1344.2"/></clipPath></defs>
<line x1="199.6" y1="1351.1" x2="1740" y2="271.9" stroke="#fe0000" stroke-width="11.5" stroke-linecap="butt" clip-path="url(#ax)"/>
<rect x="239.5" y="156.5" width="635.5" height="141.5" fill="#fff" stroke="#d0d0d0" stroke-width="6"/>
<rect x="239.5" y="156.5" width="635.5" height="141.5" fill="#fff" stroke="#444" stroke-width="3.8"/>
<polygon points="316.0,173.3 326.0,173.3 326.0,177.3 333.4,177.3 333.4,184.7 337.4,184.7 337.4,198.3 333.4,198.3 333.4,205.7 326.0,205.7 326.0,209.7 316.0,209.7 316.0,205.7 308.6,205.7 308.6,198.3 304.6,198.3 304.6,184.7 308.6,184.7 308.6,177.3 316.0,177.3" fill="#1468bc"/><polygon points="317.6,175.9 324.4,175.9 324.4,178.9 330.8,178.9 330.8,184.7 334.8,184.7 334.8,198.3 330.8,198.3 330.8,204.1 324.4,204.1 324.4,207.1 317.6,207.1 317.6,204.1 311.2,204.1 311.2,198.3 307.2,198.3 307.2,184.7 311.2,184.7 311.2,178.9 317.6,178.9" fill="#0000fc"/>
<line x1="251.5" y1="258.5" x2="377.5" y2="258.5" stroke="#fe0000" stroke-width="12"/>
<text x="729.70" y="72.00" font-size="67" letter-spacing="-0.320">Air</text>
<text x="831.00" y="72.00" font-size="67" letter-spacing="-0.360">speed</text>
<text x="996.50" y="72.00" font-size="67" letter-spacing="0.533">fitting</text>
<text x="1176.00" y="72.00" font-size="67" letter-spacing="-0.120">curve</text>
<text x="723.70" y="1630.80" font-size="75" letter-spacing="0.240">Air</text>
<text x="841.10" y="1630.80" font-size="75" letter-spacing="-0.880">speed</text>
<text x="1027.00" y="1630.80" font-size="75" letter-spacing="-1.234">measured</text>
<text transform="translate(76.80,1006.50) rotate(-90) scale(1,1.0000)" font-size="73.5" letter-spacing="0.560">Air</text>
<text transform="translate(76.80,888.60) rotate(-90) scale(1,1.0000)" font-size="73.5" letter-spacing="-1.360">speed</text>
<text transform="translate(76.80,703.90) rotate(-90) scale(1,1.0000)" font-size="73.5" letter-spacing="-1.280">set</text>
<text x="382.40" y="212.10" font-size="51" letter-spacing="0.640">Measured</text>
<text x="598.00" y="212.10" font-size="51" letter-spacing="1.120">-Set</text>
<text x="694.20" y="212.10" font-size="51" letter-spacing="0.680">value</text>
<text x="404.90" y="277.70" font-size="51" letter-spacing="0.190">y=1.1259x+0.24221</text>
<text x="131.80" y="136.60" font-size="56" letter-spacing="0.160">14</text>
<text x="131.80" y="321.90" font-size="56">13</text>
<text x="129.20" y="515.90" font-size="56" letter-spacing="0.640">12</text>
<text x="129.20" y="710.60" font-size="56" letter-spacing="-3.680">11</text>
<text x="129.20" y="902.70" font-size="56">10</text>
<text x="147.45" y="1100.40" font-size="56">9</text>
<text x="148.40" y="1288.70" font-size="56">8</text>
<text x="148.25" y="1481.10" font-size="56">7</text>
<text x="171.70" y="1535.20" font-size="56" letter-spacing="0.880">6.5</text>
<text x="334.45" y="1535.20" font-size="56">7</text>
<text x="465.80" y="1535.20" font-size="56" letter-spacing="1.280">7.5</text>
<text x="645.00" y="1535.20" font-size="56">8</text>
<text x="779.70" y="1535.20" font-size="56" letter-spacing="0.560">8.5</text>
<text x="957.35" y="1535.20" font-size="56">9</text>
<text x="1084.70" y="1535.20" font-size="56" letter-spacing="0.880">9.5</text>
<text x="1252.90" y="1535.20" font-size="56" letter-spacing="0.640">10</text>
<text x="1384.00" y="1535.20" font-size="56" letter-spacing="0.213">10.5</text>
<text x="1558.80" y="1535.20" font-size="56" letter-spacing="-6.880">11</text>
<text x="1689.60" y="1535.20" font-size="56" letter-spacing="-0.427">11.5</text>
</svg></body></html>
